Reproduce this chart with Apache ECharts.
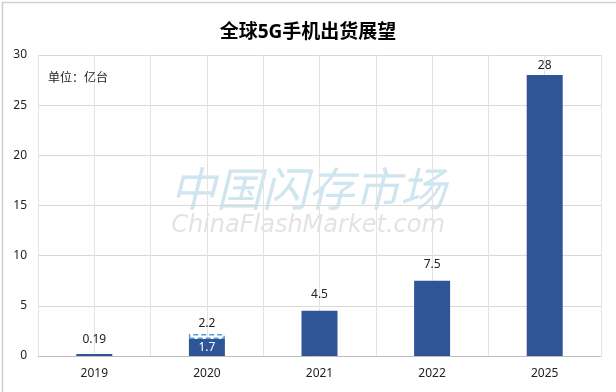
<!DOCTYPE html>
<html><head><meta charset="utf-8">
<script src="https://cdn.jsdelivr.net/npm/echarts@6/dist/echarts.min.js"></script>
<style>html,body{margin:0;padding:0;background:#fff}#c{width:616px;height:392px}</style>
</head><body><div id="c"></div>
<script>
var title = '全球5G手机出货展望';
var unitText = '单位：亿台';
var categories = ['2019', '2020', '2021', '2022', '2025'];
var shipments = [0.19, 1.7, 4.5, 7.5, 28];
var forecastTotals = [null, 2.2, null, null, null];
var labelGaps = [9, 0, 10, 10, 3];
var yTicks = [0, 5, 10, 15, 20, 25, 30];

var FONT = '"Noto Sans", "Noto Sans CJK SC", sans-serif';
var chart = echarts.init(document.getElementById('c'), null, {renderer: 'canvas'});

var baseData = shipments.map(function (v, i) {
  if (forecastTotals[i] != null) {
    return {value: v, label: {show: true, position: 'inside', color: '#fff'}};
  }
  return {value: v, label: {show: true, position: 'top', distance: labelGaps[i], color: '#222'}};
});
var extraData = forecastTotals.map(function (t, i) {
  if (t == null) return null;
  return {value: t - shipments[i], total: t};
});

chart.setOption({
  animation: false,
  backgroundColor: '#fff',
  title: {
    text: title, left: 'center', top: 18,
    textStyle: {fontFamily: FONT, fontSize: 19, fontWeight: 'bold', color: '#000'}
  },
  grid: {left: 38, right: 15, top: 55, bottom: 36, containLabel: false},
  graphic: [
    {type: 'rect', left: 0, top: 0, shape: {x: 0.75, y: 0.75, width: 614.5, height: 390.5},
     style: {fill: 'none', stroke: '#d0d0d0', lineWidth: 1.5}, silent: true, z: 100},
    {type: 'text', left: 48, top: 73, style: {text: unitText, font: '12px ' + FONT, fill: '#222'}, z: 10},
    {type: 'text', left: 'center', top: 166, style: {text: '中国闪存市场', font: 'italic 46px "Noto Sans CJK SC", sans-serif', fill: '#cfe5f0'}, z: 0},
    {type: 'text', left: 'center', top: 214, style: {text: 'ChinaFlashMarket.com', font: 'italic 24px "DejaVu Sans", sans-serif', fill: '#e3e3e3'}, z: 0}
  ],
  xAxis: [{
    type: 'category', data: categories,
    axisLine: {show: true, lineStyle: {color: '#bfbfbf', width: 1}},
    axisTick: {show: false},
    axisLabel: {fontFamily: FONT, fontSize: 12, color: '#222', margin: 12},
    splitLine: {show: false}
  }, {
    type: 'value', min: 0, max: 10, interval: 1, show: true, position: 'top',
    axisLine: {show: false}, axisTick: {show: false}, axisLabel: {show: false},
    splitLine: {show: true, lineStyle: {color: '#e3e3e3', width: 1}}
  }],
  yAxis: {
    type: 'value', min: yTicks[0], max: yTicks[yTicks.length - 1], interval: yTicks[1] - yTicks[0],
    axisLine: {show: false}, axisTick: {show: false},
    axisLabel: {fontFamily: FONT, fontSize: 12, color: '#222', margin: 11},
    splitLine: {show: true, lineStyle: {color: '#d9d9d9', width: 1}}
  },
  series: [{
    type: 'bar', stack: 's', data: baseData, barWidth: 36, xAxisIndex: 0,
    itemStyle: {color: '#2f5597'},
    label: {fontFamily: FONT, fontSize: 12}, z: 5
  }, {
    type: 'bar', stack: 's', data: extraData, barWidth: 36, xAxisIndex: 0,
    itemStyle: {color: 'rgba(255,255,255,0)', borderColor: '#5b9bd5', borderWidth: 1.5, borderType: [5, 3]},
    label: {show: true, position: 'top', distance: 4, color: '#222', fontFamily: FONT, fontSize: 12,
      formatter: function (p) { return p.data ? String(p.data.total) : ''; }}, z: 5
  }]
});
</script></body></html>
